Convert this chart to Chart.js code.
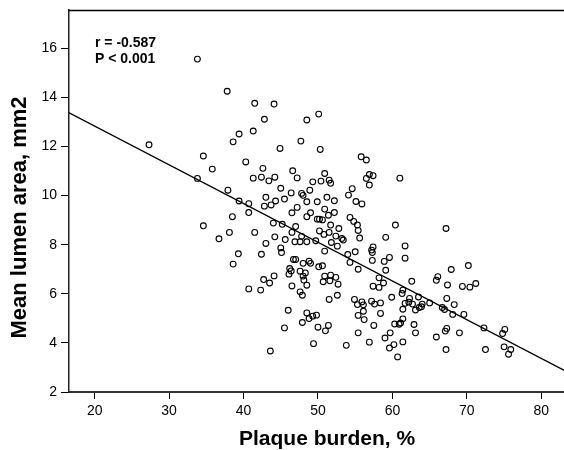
<!DOCTYPE html>
<html>
<head>
<meta charset="utf-8">
<title>Plaque burden vs mean lumen area</title>
<script src="https://cdn.jsdelivr.net/npm/chart.js@4.4.1/dist/chart.umd.min.js"></script>
<style>
  html, body { margin: 0; padding: 0; background: #fff; }
  #wrap { width: 564px; height: 450px; }
</style>
</head>
<body>
<div id="wrap"><canvas id="chart" width="564" height="450"></canvas></div>
<script>
(function () {
    'use strict';

    // ── DATA ───────────────────────────────────────────────────────────────
    // plaque burden, % (x) and mean lumen area, mm2 (y), same order
    const plaqueBurden = [
        33.8, 37.8, 39.4, 38.6, 27.3, 34.6, 35.8, 33.8, 37.9, 39.4,
        38.5, 34.6, 38.1, 36.7, 39.3, 38.6,
        41.5, 44.1, 42.8, 48.5, 50.1, 41.3, 47.7, 44.9, 50.3, 40.3,
        42.6, 41.3, 42.4, 43.4, 44.2, 46.6, 47.2, 49.3, 50.4, 50.9,
        51.5, 51.7, 45.0, 46.4, 47.8, 48.0, 48.9, 43.0, 44.3, 45.5,
        48.5, 49.9, 51.2, 52.2, 40.7,
        40.7, 42.8, 43.7, 47.2, 46.5, 49.0, 48.5, 50.9, 52.2, 51.4,
        50.2, 50.6, 49.9, 51.7, 44.0, 45.2, 47.0, 46.5, 47.8, 50.2,
        51.5, 52.4, 41.5, 44.2, 45.6, 46.9, 47.6, 48.5, 49.7, 50.8,
        51.8, 52.6, 50.9, 43.0, 45.0, 45.1, 42.4, 46.7, 47.0, 48.0,
        48.8, 49.0, 50.1, 50.6, 46.2, 46.4, 47.6, 48.3, 48.0, 48.1,
        48.5, 46.1, 42.7, 43.5, 44.1, 50.9, 51.7, 52.4, 50.7, 51.6,
        52.7, 40.7, 42.3, 46.5, 47.6, 47.9, 51.5, 52.6, 46.0, 48.5,
        48.8, 49.3, 49.8, 47.9, 50.0, 51.4, 51.0, 45.5, 49.4, 43.6,
        55.8, 56.5, 56.9, 57.4, 56.5, 56.9, 61.0, 54.6, 54.1, 55.1,
        55.9,
        54.3, 54.8, 55.3, 55.4, 60.4, 52.8, 53.2, 53.4, 55.6, 59.1,
        61.7, 57.4, 57.2, 57.3, 54.0, 55.0, 59.6, 58.9, 61.7, 57.3,
        54.3, 55.4, 59.1, 58.2, 58.8, 57.4, 58.2, 62.6, 66.1, 65.9,
        61.4, 61.3, 59.9, 54.9, 55.3, 55.9, 56.1, 57.2, 57.6, 58.4,
        62.3, 63.5, 61.7, 62.2, 62.7, 64.0, 65.0, 61.4, 63.1, 63.6,
        63.9, 56.1, 55.4, 56.2, 58.4, 61.4, 61.1, 60.9, 60.3, 57.5,
        62.9, 63.1, 55.4, 59.7, 59.0, 65.9, 61.4, 60.2, 59.6, 56.9,
        53.8, 60.7,
        67.2, 70.2, 67.9, 67.4, 69.4, 70.4, 71.2, 67.3, 68.3, 66.7,
        67.0, 68.1, 69.6, 67.3, 67.1, 69.0, 72.3, 75.1, 74.8, 67.2,
        72.5, 75.0, 75.9, 75.6
    ];
    const lumenArea = [
        15.56, 14.25, 12.51, 12.19, 12.07, 11.61, 11.08, 10.70, 10.22, 9.78,
        9.14, 8.77, 8.50, 8.24, 7.63, 7.21,
        13.76, 13.73, 13.11, 13.08, 13.32, 12.63, 12.22, 11.92, 11.88, 11.37,
        11.11, 10.71, 10.75, 10.60, 10.75, 11.01, 10.72, 10.56, 10.59, 10.90,
        10.63, 10.50, 10.30, 10.11, 10.09, 10.01, 10.22, 9.93, 9.78, 9.86,
        9.75, 9.75, 9.93, 9.79, 9.67,
        9.31, 9.57, 9.62, 9.52, 9.30, 9.30, 9.14, 9.45, 9.31, 9.20,
        9.04, 9.01, 9.04, 8.80, 8.88, 8.83, 8.74, 8.50, 8.34, 8.56,
        8.50, 8.35, 8.50, 8.32, 8.21, 8.12, 8.12, 8.12, 8.16, 8.42,
        8.09, 7.94, 7.74, 8.05, 7.87, 7.68, 7.61, 7.40, 7.40, 7.24,
        7.33, 7.24, 7.10, 7.14, 7.03, 6.93, 6.92, 6.85, 6.72, 6.56,
        6.35, 6.80, 6.58, 6.44, 6.73, 6.72, 6.76, 6.67, 6.49, 6.53,
        6.39, 6.20, 6.15, 6.32, 6.08, 5.94, 5.77, 5.94, 5.33, 5.22,
        4.99, 5.09, 5.13, 4.83, 4.64, 4.71, 4.49, 4.61, 3.97, 3.67,
        11.58, 11.45, 10.86, 10.81, 10.70, 10.43, 10.71, 10.28, 10.02, 9.76,
        9.66,
        9.11, 8.95, 8.80, 8.58, 8.80, 8.66, 8.25, 8.19, 8.27, 8.30,
        7.95, 7.91, 7.78, 7.68, 7.60, 7.71, 7.48, 7.32, 7.45, 7.36,
        7.28, 7.00, 6.96, 6.65, 6.44, 6.31, 6.26, 6.51, 6.70, 6.55,
        6.15, 6.01, 5.86, 5.77, 5.56, 5.67, 5.55, 5.70, 5.58, 5.63,
        5.81, 5.87, 5.61, 5.66, 5.58, 5.58, 5.63, 5.37, 5.34, 5.44,
        5.47, 5.29, 5.12, 4.95, 5.20, 4.98, 4.81, 4.76, 4.77, 4.71,
        4.75, 4.41, 4.41, 4.41, 4.20, 4.24, 4.04, 3.93, 3.79, 4.03,
        3.90, 3.43,
        8.66, 7.15, 6.99, 6.36, 6.30, 6.27, 6.42, 5.81, 5.56, 5.44,
        5.36, 5.16, 5.16, 4.59, 4.48, 4.41, 4.61, 4.55, 4.38, 3.73,
        3.73, 3.84, 3.73, 3.54
    ];

    // fit line end points as drawn in the figure
    const fitX = [16.5, 83.1];
    const fitY = [13.38, 2.88];

    const xTicks = [20, 30, 40, 50, 60, 70, 80];
    const yTicks = [2, 4, 6, 8, 10, 12, 14, 16];
    const xRange = [16.55, 83.05];
    const yRange = [2, 17.56];

    const statLines = ['r = -0.587', 'P < 0.001'];
    const xTitle = 'Plaque burden, %';
    const yTitle = 'Mean lumen area, mm2';

    // ── STYLE ──────────────────────────────────────────────────────────────
    const FONT = '"Liberation Sans", Arial, Helvetica, sans-serif';
    const INK  = '#000';

    const points = plaqueBurden.map((x, i) => ({ x, y: lumenArea[i] }));
    const fit    = fitX.map((x, i) => ({ x, y: fitY[i] }));

    // frame top edge, stats text and axis titles
    const overlay = {
        id: 'overlay',
        afterDraw(chart) {
            const { ctx, chartArea: a } = chart;
            ctx.save();
            ctx.strokeStyle = INK;
            ctx.lineWidth = 1.5;
            ctx.beginPath();
            ctx.moveTo(a.left, a.top + 0.5);
            ctx.lineTo(a.right, a.top + 0.5);
            ctx.stroke();

            ctx.fillStyle = INK;
            ctx.textAlign = 'left';
            ctx.textBaseline = 'alphabetic';
            ctx.font = 'bold 14px ' + FONT;
            ctx.fillText(statLines[0], a.left + 26, 46.5);
            ctx.fillText(statLines[1], a.left + 26, 63.3);

            ctx.font = 'bold 21px ' + FONT;
            ctx.fillText(xTitle, 239, 445);

            ctx.translate(25.5, 338.5);
            ctx.rotate(-Math.PI / 2);
            ctx.font = 'bold 22px ' + FONT;
            ctx.fillText(yTitle, 0, 0);
            ctx.restore();
        }
    };

    new Chart(document.getElementById('chart'), {
        type: 'scatter',
        data: {
            datasets: [{
                data: points,
                pointStyle: 'circle',
                pointRadius: 2.9,
                pointBorderWidth: 1.1,
                pointBorderColor: INK,
                pointBackgroundColor: 'rgba(0,0,0,0)'
            }, {
                type: 'line',
                data: fit,
                borderColor: INK,
                borderWidth: 1.3,
                pointRadius: 0,
                fill: false
            }]
        },
        options: {
            responsive: false,
            animation: false,
            events: [],
            devicePixelRatio: 1,
            layout: { autoPadding: false, padding: { left: 0, top: 10, right: 0, bottom: 0 } },
            plugins: {
                legend: { display: false },
                tooltip: { enabled: false }
            },
            scales: {
                x: {
                    type: 'linear',
                    min: xRange[0],
                    max: xRange[1],
                    afterBuildTicks: s => { s.ticks = xTicks.map(v => ({ value: v })); },
                    afterFit: s => { s.height = 58; s.paddingLeft = 0; s.paddingRight = 0; },
                    border: { display: true, color: '#333', width: 2 },
                    grid: { drawOnChartArea: false, drawTicks: true, tickLength: 7, color: INK, lineWidth: 1 },
                    ticks: {
                        font: { family: FONT, size: 14 },
                        color: INK,
                        padding: 4,
                        maxRotation: 0
                    }
                },
                y: {
                    type: 'linear',
                    min: yRange[0],
                    max: yRange[1],
                    afterBuildTicks: s => { s.ticks = yTicks.map(v => ({ value: v })); },
                    afterFit: s => { s.width = 69; s.paddingTop = 0; s.paddingBottom = 0; },
                    border: { display: true, color: '#222', width: 1.5 },
                    grid: { drawOnChartArea: false, drawTicks: true, tickLength: 8, color: INK, lineWidth: 1 },
                    ticks: {
                        font: { family: FONT, size: 14 },
                        color: INK,
                        padding: 4
                    }
                }
            }
        },
        plugins: [overlay]
    });

})();
</script>
</body>
</html>
